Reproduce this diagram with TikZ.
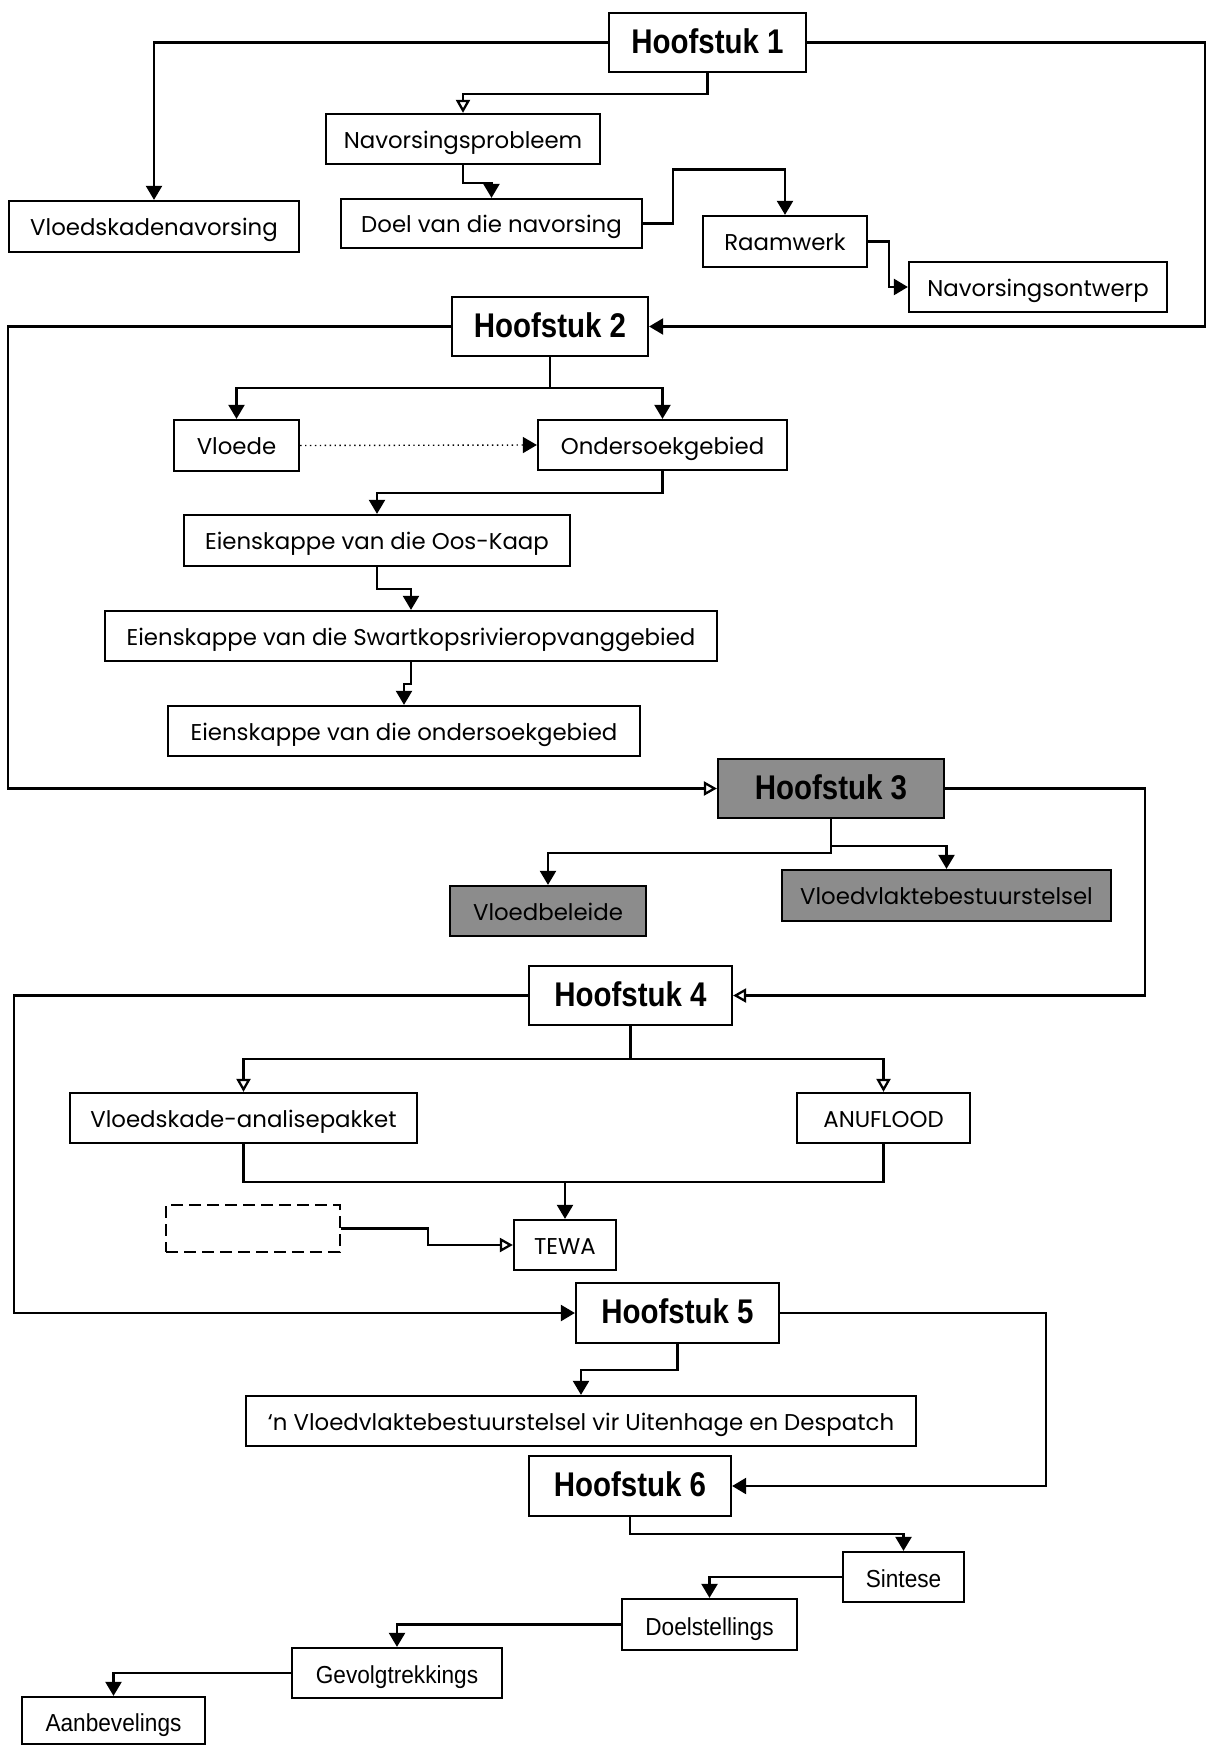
\documentclass[tikz,border=0pt]{standalone}
\usepackage{fontspec}
\setmainfont{Poppins}
\newfontfamily\hoofdfont[FakeStretch=0.86]{Liberation Sans}
\newfontfamily\eindfont[FakeStretch=0.92]{Liberation Sans}
\usetikzlibrary{arrows.meta}

\begin{document}
\begin{tikzpicture}[x=0.02cm, y=-0.02cm, line width=1.3pt,
    box/.style={draw, rectangle, inner sep=0pt, text height=10.4pt, text depth=0pt, font=\fontsize{13}{15}\selectfont},
    hoof/.style={box, text height=12pt, font=\hoofdfont\bfseries\fontsize{19.5}{22}\selectfont},
    grys/.style={fill=black!45},
    eind/.style={box, text height=12pt, font=\eindfont\fontsize{14}{16}\selectfont},
    vol/.style={-{Triangle[length=0.28cm, width=0.32cm]}},
    oop/.style={-{Triangle[open, length=0.26cm, width=0.28cm]}}]
            % Fix the page to the size of the scan (pixels, y downwards).
            \useasboundingbox (0,0) rectangle (1211,1746);

            % Hoofstuk 1 and its parts.
            \node[hoof, minimum width=3.94cm, minimum height=1.18cm] (h1) at (707.5,42.5) {Hoofstuk 1};
            \node[box, minimum width=5.8cm, minimum height=1.02cm] (vloedskade) at (154,226.5) {Vloedskadenavorsing};
            \node[box, minimum width=5.48cm, minimum height=1cm] (navprob) at (463,139) {Navorsingsprobleem};
            \node[box, minimum width=6.02cm, minimum height=0.98cm] (doel) at (491.5,223.5) {Doel van die navorsing};
            \node[box, minimum width=3.28cm, minimum height=1.02cm] (raam) at (785,241.5) {Raamwerk};
            \node[box, minimum width=5.16cm, minimum height=1cm] (navontw) at (1038,287) {Navorsingsontwerp};

            \draw[vol] (h1.west) -| (vloedskade.north);
            \draw[oop] (h1.south) -- ++(0,21) -| (navprob.north);
            \draw[vol] (navprob.south) -- ++(0,18) -| (doel.north);
            \draw[vol] (doel.east) -- ++(30,0) -- ++(0,-54) -| (raam.north);
            \draw[vol] (raam.east) -- ++(21,0) |- (navontw.west);

            % Hoofstuk 2 and its parts.
            \node[hoof, minimum width=3.92cm, minimum height=1.18cm] (h2) at (550,326.5) {Hoofstuk 2};
            \node[box, minimum width=2.5cm, minimum height=1.02cm] (vloede) at (236.5,445.5) {Vloede};
            \node[box, minimum width=4.98cm, minimum height=1cm] (ondersoek) at (662.5,445) {Ondersoekgebied};
            \node[box, minimum width=7.72cm, minimum height=1.02cm] (ooskaap) at (377,540.5) {Eienskappe van die Oos-Kaap};
            \node[box, minimum width=12.24cm, minimum height=1cm] (swart) at (411,636) {Eienskappe van die Swartkopsrivieropvanggebied};
            \node[box, minimum width=9.44cm, minimum height=1cm] (ondgeb) at (404,731) {Eienskappe van die ondersoekgebied};

            \draw[vol] (h2.south) -- ++(0,31) -| (vloede.north);
            \draw[vol] (h2.south) -- ++(0,31) -| (ondersoek.north);
            \draw[vol, line width=0.8pt, dotted] (vloede.east) -- (ondersoek.west);
            \draw[vol] (ondersoek.south) -- ++(0,22) -| (ooskaap.north);
            \draw[vol] (ooskaap.south) -- ++(0,22) -| (swart.north);
            \draw[vol] (swart.south) -- ++(0,22) -| (ondgeb.north);

            % Hoofstuk 3 (shaded boxes).
            \node[hoof, grys, minimum width=4.52cm, minimum height=1.18cm] (h3) at (831,788.5) {Hoofstuk 3};
            \node[box, grys, minimum width=3.92cm, minimum height=1cm] (vbeleid) at (548,911) {Vloedbeleide};
            \node[box, grys, minimum width=6.58cm, minimum height=1.02cm] (vvbs) at (946.5,895.5) {Vloedvlaktebestuurstelsel};

            \draw[vol] (h3.south) -- ++(0,34) -| (vbeleid.north);
            \draw[vol] (h3.south) -- ++(0,27) -| (vvbs.north);

            % Hoofstuk 4 and its parts.
            \node[hoof, minimum width=4.06cm, minimum height=1.18cm] (h4) at (630.5,995.5) {Hoofstuk 4};
            \node[box, minimum width=6.94cm, minimum height=1cm] (vap) at (243.5,1118) {Vloedskade-analisepakket};
            \node[box, minimum width=3.46cm, minimum height=1cm] (anuf) at (883.5,1118) {ANUFLOOD};
            \node[draw, dash pattern=on 0.24cm off 0.12cm, minimum width=3.48cm, minimum height=0.94cm] (leeg) at (253,1228.5) {};
            \node[box, minimum width=2.04cm, minimum height=1cm] (tewa) at (565,1245) {TEWA};

            \draw[oop] (h4.south) -- ++(0,33) -| (vap.north);
            \draw[oop] (h4.south) -- ++(0,33) -| (anuf.north);
            \draw (vap.south) -- ++(0,38) coordinate (saam) -| (anuf.south);
            \draw[vol] (saam -| tewa.north) -- (tewa.north);
            \draw[oop] (leeg.east) -- ++(87,0) |- (tewa.west);

            % Hoofstuk 5 and 6.
            \node[hoof, minimum width=4.06cm, minimum height=1.2cm] (h5) at (677.5,1313) {Hoofstuk 5};
            \node[box, minimum width=13.4cm, minimum height=1cm] (uit) at (581,1421) {‘n Vloedvlaktebestuurstelsel vir Uitenhage en Despatch};
            \node[hoof, minimum width=4.04cm, minimum height=1.2cm] (h6) at (630,1486) {Hoofstuk 6};

            \draw[vol] (h5.south) -- ++(0,26) -| (uit.north);

            % Closing steps.
            \node[eind, minimum width=2.42cm, minimum height=1cm] (sint) at (903.5,1577) {Sintese};
            \node[eind, minimum width=3.5cm, minimum height=1.02cm] (doelst) at (709.5,1624.5) {Doelstellings};
            \node[eind, minimum width=4.2cm, minimum height=1cm] (gevolg) at (397,1673) {Gevolgtrekkings};
            \node[eind, minimum width=3.66cm, minimum height=0.94cm] (aanb) at (113.5,1720.5) {Aanbevelings};

            \draw[vol] (h6.south) -- ++(0,17) -| (sint.north);
            \draw[vol] (sint.west) -| (doelst.north);
            \draw[vol] (doelst.west) -| (gevolg.north);
            \draw[vol] (gevolg.west) -| (aanb.north);

            % Links from one chapter to the next, round the outside.
            \draw[vol] (h1.east) -- ++(398,0) |- (h2.east);
            \draw[oop] (h2.west) -- ++(-443,0) |- (h3.west);
            \draw[oop] (h3.east) -- ++(200,0) |- (h4.east);
            \draw[vol] (h4.west) -- ++(-514,0) |- (h5.west);
            \draw[vol] (h5.east) -- ++(266,0) |- (h6.east);
        \end{tikzpicture}
\end{document}
